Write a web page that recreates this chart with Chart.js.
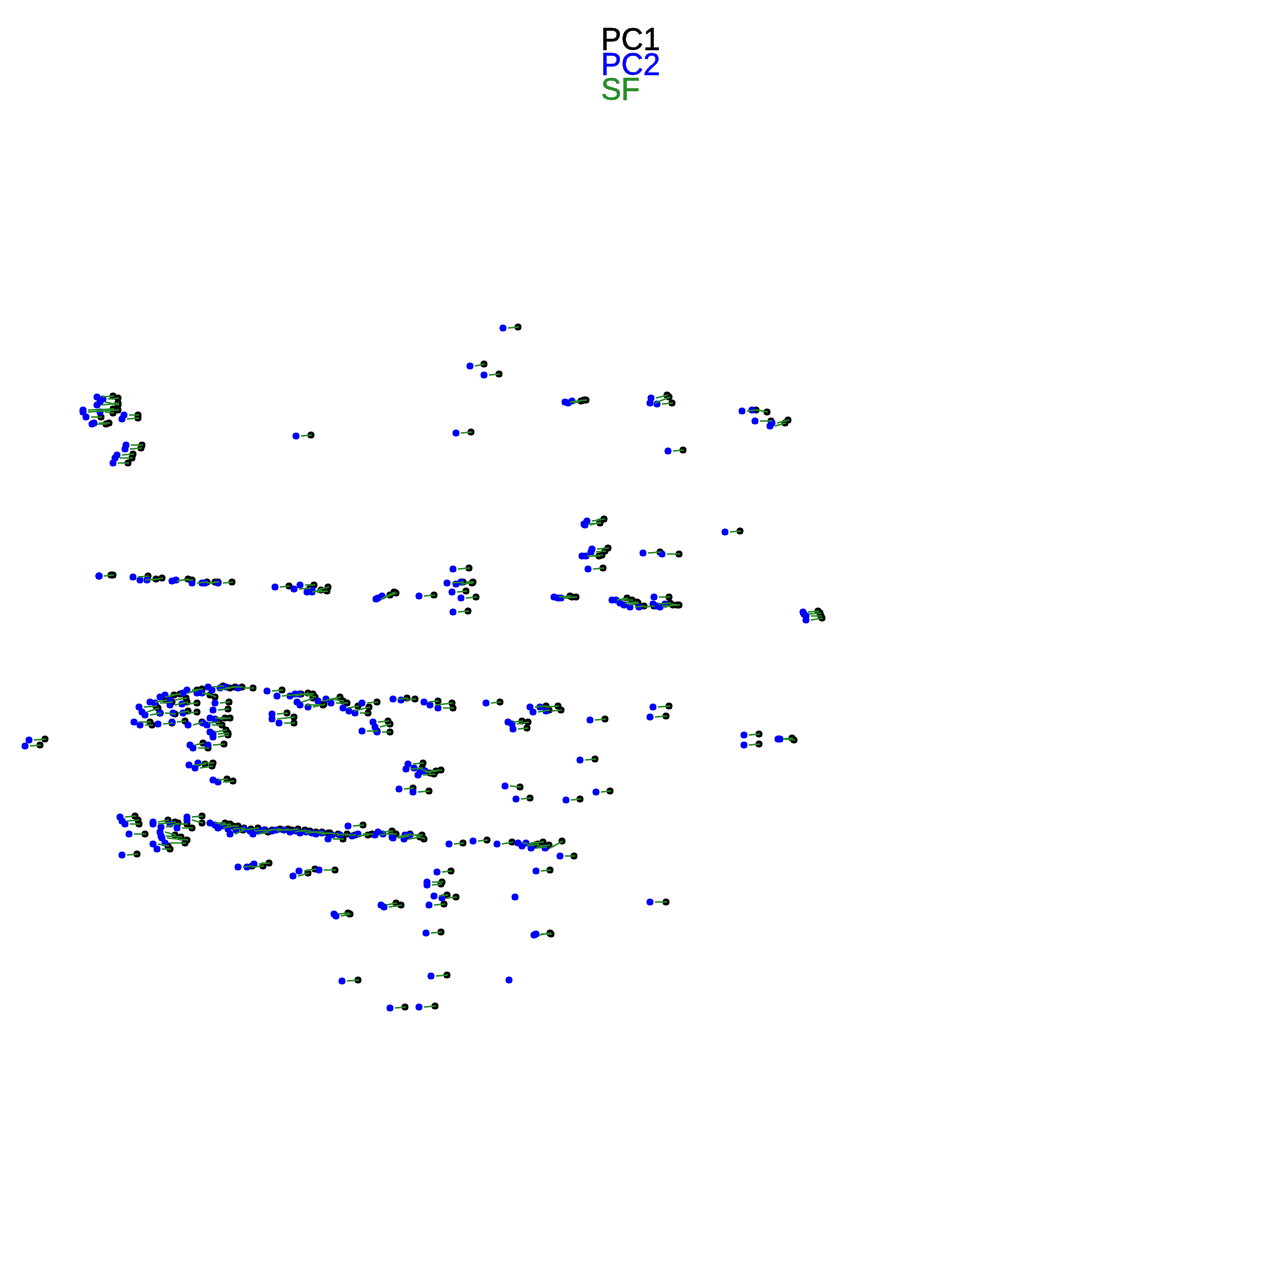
<!DOCTYPE html>
<html>
<head>
<meta charset="utf-8">
<title>PC1 PC2 SF</title>
<script src="https://cdn.jsdelivr.net/npm/chart.js@4/dist/chart.umd.min.js"></script>
<style>
  html, body { margin: 0; padding: 0; background: #fff; }
  canvas { display: block; }
</style>
</head>
<body>
<canvas id="myChart" width="1280" height="1280"></canvas>
<script>
const seriesNames = ['PC1', 'PC2', 'SF'];

// PC2 = left (blue) end of each pair
const pc2X = [
  503,470,484,565,568,572,651,650,657,742,752,755,770,772,
  97,103,97,100,83,83,100,86,92,94,122,124,126,125,117,115,113,
  296,456,668,725,
  585,587,584,592,582,591,586,588,643,662,
  453,447,456,461,452,461,453,419,378,376,382,
  99,99,133,140,147,172,176,192,202,205,218,275,300,294,307,312,312,
  554,558,561,612,616,620,624,630,639,654,653,660,665,657,804,803,806,806,
  208,212,220,226,238,187,183,160,165,197,202,170,150,155,182,170,139,142,145,160,173,183,215,213,134,140,158,172,188,215,203,210,207,210,213,213,190,193,208,189,195,198,213,218,
  267,277,290,295,299,297,300,308,318,326,331,343,349,355,362,393,401,424,430,438,272,272,279,373,375,362,377,486,508,512,513,530,533,546,540,590,653,650,744,744,778,780,29,25,
  408,406,414,418,420,425,399,413,580,505,516,566,596,
  120,122,125,129,122,153,153,161,160,161,162,165,153,157,187,187,177,170,238,247,254,
  210,215,218,222,230,228,236,244,253,250,258,264,272,276,284,290,296,300,306,312,316,322,328,348,332,340,352,358,378,375,383,392,404,405,410,393,
  449,473,497,518,522,526,531,532,545,560,536,437,427,427,434,442,429,299,293,319,381,384,334,336,650,534,536,426,342,431,390,419,515,509
];
const pc2Y = [
  328,366,375,402,403,401,398,403,404,411,410,421,426,423,
  397,399,405,402,410,412,412,417,424,423,419,415,445,449,455,458,463,
  436,433,451,532,
  525,521,524,549,556,552,556,569,553,554,
  569,583,584,582,592,598,612,596,598,599,596,
  576,576,577,580,580,581,580,583,583,583,583,587,585,589,592,590,592,
  597,598,598,600,600,603,605,607,607,597,604,607,604,606,614,612,616,620,
  687,690,688,687,688,690,693,697,695,693,693,700,702,703,704,705,707,712,715,713,713,713,703,710,722,725,724,722,725,719,723,718,725,732,737,734,745,748,745,765,768,763,780,782,
  691,696,696,694,694,702,705,707,701,699,703,708,711,713,703,699,700,702,705,708,714,719,723,722,727,731,732,703,722,724,729,707,712,711,707,720,707,717,735,745,739,739,740,746,
  764,769,768,775,772,771,789,792,760,786,799,800,792,
  817,821,824,834,855,822,824,827,832,836,838,843,844,849,817,820,828,824,867,867,864,
  823,825,828,826,834,829,830,829,834,831,831,830,831,830,830,832,831,833,832,833,834,833,839,826,835,835,836,834,832,835,834,837,839,835,835,838,
  844,841,844,843,846,843,848,846,848,856,871,872,882,885,896,898,905,871,876,870,905,907,914,916,902,935,934,933,981,976,1008,1007,897,980
];

// PC1 = right (black) end, missing for the two lone blue points
const pc1X = [
  518,484,499,584,581,586,667,669,672,756,767,771,785,788,
  113,118,118,118,113,118,113,101,106,109,138,138,142,141,133,132,128,
  311,471,683,740,
  600,604,600,608,599,605,602,603,660,679,
  469,463,472,473,466,476,468,434,394,390,396,
  113,111,148,156,162,188,192,207,215,218,232,289,314,310,321,328,327,
  570,572,576,627,632,637,638,644,654,669,670,673,679,677,820,818,821,822,
  223,230,235,242,253,202,197,174,180,210,215,186,166,172,197,187,156,158,160,175,188,197,229,228,150,152,172,185,202,230,219,225,222,226,228,228,203,208,224,205,212,213,227,233,
  282,301,308,313,315,313,323,324,340,343,347,358,369,368,377,407,415,438,452,453,287,294,294,388,390,377,390,500,522,528,527,546,549,561,558,605,669,666,759,759,792,794,45,40,
  423,422,430,434,436,441,413,429,595,520,530,580,610,
  135,138,139,145,137,168,175,178,175,181,187,185,168,170,202,202,192,187,252,263,269,
  225,230,233,238,243,244,251,258,268,265,272,280,288,292,298,305,310,316,322,328,330,338,343,363,347,355,368,372,392,392,396,410,420,422,424,408,
  463,487,512,535,538,543,546,549,562,574,550,451,442,441,447,456,444,315,308,335,396,401,348,350,666,550,551,441,358,447,405,435,null,null
];
const pc1Y = [
  327,364,374,400,401,400,395,397,403,410,412,421,423,420,
  396,398,403,405,409,410,413,417,424,423,418,415,445,448,454,458,463,
  435,432,450,531,
  522,519,523,548,556,551,555,568,552,554,
  568,582,583,582,591,597,611,595,592,595,593,
  575,575,576,579,578,579,580,582,582,582,582,586,585,588,590,587,591,
  596,597,597,598,600,602,603,606,606,597,603,605,605,605,613,611,616,618,
  686,688,687,687,688,689,690,695,694,695,697,698,700,702,703,702,706,708,713,714,711,712,702,709,722,725,723,721,722,718,722,718,725,730,735,733,743,748,744,764,766,763,779,781,
  690,694,693,694,697,698,705,704,697,701,703,706,707,713,702,698,699,701,703,708,713,717,723,721,724,731,732,702,721,722,728,706,710,710,706,719,706,716,734,744,738,740,739,745,
  763,768,773,774,771,770,788,791,759,787,798,799,791,
  816,820,824,834,854,820,822,823,835,837,840,843,846,849,816,823,828,824,866,866,863,
  823,824,826,826,830,828,829,828,832,830,830,829,829,830,829,830,831,832,832,833,833,834,839,825,834,835,835,834,831,833,834,834,837,835,839,836,
  843,840,842,845,844,842,847,845,841,856,870,871,882,884,895,897,904,869,873,870,903,905,913,914,902,933,934,932,980,975,1007,1006,null,null
];

// SF = green bar, where it starts and stops along x
const sfStartX = [
  508,475,489,570,573,577,656,655,662,747,757,760,775,777,
  102,108,102,105,88,88,105,91,97,99,127,129,131,130,122,120,118,
  301,461,673,730,
  590,592,589,597,587,596,591,593,648,667,
  458,452,461,466,457,466,458,424,383,381,387,
  104,104,138,145,152,177,181,197,207,210,223,280,305,299,312,317,317,
  559,563,566,617,621,625,629,635,644,659,658,665,670,662,809,808,811,811,
  213,217,225,231,243,192,188,165,170,202,207,175,155,160,187,175,144,147,150,165,178,188,220,218,139,145,163,177,193,220,208,215,212,215,218,218,195,198,213,194,200,203,218,223,
  272,282,295,300,304,302,305,313,323,331,336,348,354,360,367,398,406,429,435,443,277,277,284,378,380,367,382,491,513,517,518,535,538,551,545,595,658,655,749,749,783,785,34,30,
  413,411,419,423,425,430,404,418,585,510,521,571,601,
  125,127,130,134,127,158,158,166,165,166,167,170,158,162,192,192,182,175,243,252,259,
  215,220,223,227,235,233,241,249,258,255,263,269,277,281,289,295,301,305,311,317,321,327,333,353,337,345,357,363,383,380,388,397,409,410,415,398,
  454,478,502,523,527,531,536,537,550,565,541,442,432,432,439,447,434,304,298,324,386,389,339,341,655,539,541,431,347,436,395,424,null,null
];
const sfEndX = [
  519,485,500,585,582,587,668,670,673,757,768,772,786,789,
  114,119,119,119,114,119,114,102,107,110,139,139,143,142,134,133,129,
  312,472,684,741,
  601,605,601,609,600,606,603,604,661,680,
  470,464,473,474,467,477,469,435,395,391,397,
  114,112,149,157,163,189,193,208,216,219,233,290,315,311,322,329,328,
  571,573,577,628,633,638,639,645,655,670,671,674,680,678,821,819,822,823,
  224,231,236,243,254,203,198,175,181,211,216,187,167,173,198,188,157,159,161,176,189,198,230,229,151,153,173,186,203,231,220,226,223,227,229,229,204,209,225,206,213,214,228,234,
  283,302,309,314,316,314,324,325,341,344,348,359,370,369,378,408,416,439,453,454,288,295,295,389,391,378,391,501,523,529,528,547,550,562,559,606,670,667,760,760,793,795,46,41,
  424,423,431,435,437,442,414,430,596,521,531,581,611,
  136,139,140,146,138,169,176,179,176,182,188,186,169,171,203,203,193,188,253,264,270,
  226,231,234,239,244,245,252,259,269,266,273,281,289,293,299,306,311,317,323,329,331,339,344,364,348,356,369,373,393,393,397,411,421,423,425,409,
  464,488,513,536,539,544,547,550,563,575,551,452,443,442,448,457,445,316,309,336,397,402,349,351,667,551,552,442,359,448,406,436,null,null
];

const colors = ['#000000', '#0000ff', '#228b22'];

// stacked text legend, no boxes
const textLegend = {
    id: 'textLegend',
    afterDraw(chart) {
        const c = chart.ctx;
        c.save();
        c.font = '30.5px "Liberation Sans"';
        c.textBaseline = 'middle';
        c.lineWidth = 0.5;
        seriesNames.forEach((name, i) => {
            c.fillStyle = colors[i];
            c.strokeStyle = colors[i];
            c.fillText(name, 601, 42 + i * 25);
            c.strokeText(name, 601, 42 + i * 25);
        });
        c.restore();
    }
};

const sfLine = [];
sfStartX.forEach((x, i) => {
    if (x === null) return;
    sfLine.push({x: x, y: pc2Y[i]}, {x: sfEndX[i], y: pc1Y[i]}, {x: null, y: null});
});

const ctx = document.getElementById('myChart').getContext('2d');
const myChart = new Chart(ctx, {
    type: 'scatter',
    data: {
        datasets: [
            {
                label: seriesNames[2],
                data: sfLine,
                showLine: true,
                spanGaps: false,
                borderColor: colors[2],
                borderWidth: 1.5,
                pointRadius: 0,
                order: 0
            },
            {
                label: seriesNames[1],
                data: pc2X.map((x, i) => ({x: x, y: pc2Y[i]})),
                backgroundColor: colors[1],
                pointRadius: 3.5,
                pointBorderWidth: 0,
                order: 1
            },
            {
                label: seriesNames[0],
                data: pc1X.map((x, i) => ({x: x, y: pc1Y[i]})),
                backgroundColor: colors[0],
                pointRadius: 3.5,
                pointBorderWidth: 0,
                order: 2
            }
        ]
    },
    options: {
        responsive: false,
        animation: false,
        devicePixelRatio: 1,
        layout: { padding: 0, autoPadding: false },
        plugins: {
            legend: { display: false },
            tooltip: { enabled: false }
        },
        scales: {
            x: { display: false, min: 0, max: 1280 },
            y: { display: false, min: 0, max: 1280, reverse: true }
        }
    },
    plugins: [textLegend]
});
</script>
</body>
</html>
